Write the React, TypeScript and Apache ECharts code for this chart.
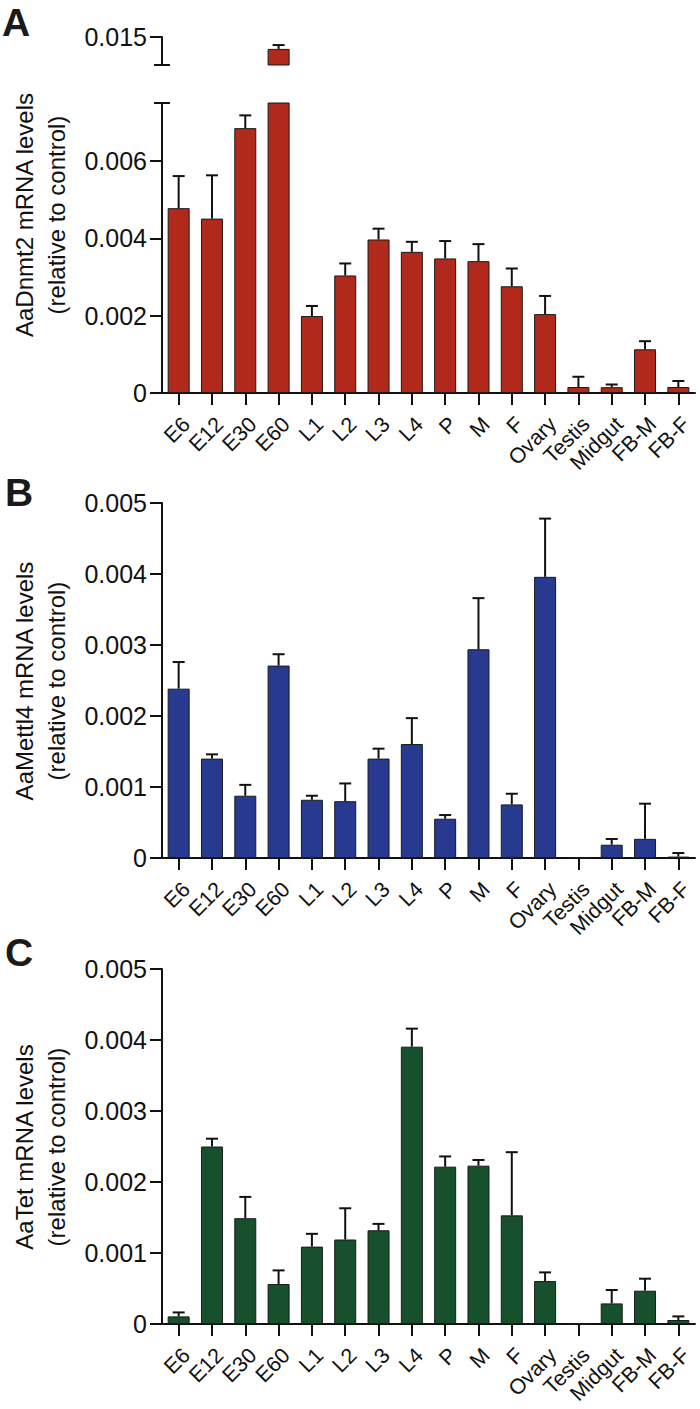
import React, { useEffect, useRef } from 'react';
import * as echarts from 'echarts';

// ---------- data ----------
const categories = ['E6', 'E12', 'E30', 'E60', 'L1', 'L2', 'L3', 'L4', 'P', 'M', 'F', 'Ovary', 'Testis', 'Midgut', 'FB-M', 'FB-F'];

const dnmt2Mean = [0.00478, 0.00451, 0.00685, 0.01466, 0.00199, 0.00304, 0.00397, 0.00365, 0.00348, 0.00341, 0.00276, 0.00204, 0.000155, 0.00015, 0.00113, 0.000155];
const dnmt2Err = [0.00083, 0.00112, 0.00033, 0.00011, 0.00026, 0.00031, 0.00028, 0.00026, 0.00045, 0.00044, 0.00046, 0.00047, 0.000265, 0.00007, 0.00021, 0.000155];

const mettl4Mean = [0.002385, 0.0014, 0.000877, 0.00271, 0.00082, 0.0008, 0.0014, 0.001605, 0.000553, 0.00294, 0.000755, 0.00396, 0, 0.000187, 0.00027, 0.00002];
const mettl4Err = [0.000375, 0.00006, 0.000153, 0.00016, 0.000057, 0.00025, 0.00014, 0.000365, 0.000052, 0.00072, 0.00015, 0.00082, 0, 0.000081, 0.000495, 0.00005];

const tetMean = [0.000107, 0.0025, 0.00149, 0.000563, 0.00109, 0.00119, 0.00132, 0.003906, 0.002216, 0.00223, 0.00153, 0.000605, 0, 0.00029, 0.000469, 0.000056];
const tetErr = [0.000056, 0.00011, 0.0003, 0.000192, 0.00018, 0.00044, 0.00009, 0.000254, 0.000144, 0.00008, 0.00089, 0.000122, 0, 0.000189, 0.000169, 0.000051];

const dnmt2LowerTicks = [0, 0.002, 0.004, 0.006];
const dnmt2UpperTicks = [0.015];

// ---------- style ----------
const FONT = '"Liberation Sans", Arial, Helvetica, sans-serif';
const INK = '#111111';
const RED = '#B0291B';
const BLUE = '#283A8F';
const GREEN = '#17502C';

const GRID_LEFT = 162;
const GRID_W = 533;

function xAxis(gridIndex: number, show: boolean) {
  return {
    type: 'category',
    gridIndex,
    show,
    data: categories,
    boundaryGap: true,
    axisLine: { show: true, lineStyle: { color: INK, width: 2 } },
    axisTick: { show: true, alignWithLabel: true, length: 12, lineStyle: { color: INK, width: 2 } },
    axisLabel: {
      show: true,
      rotate: 45,
      interval: 0,
      fontSize: 21.5,
      color: INK,
      fontFamily: FONT,
      margin: 20,
      align: 'right',
      verticalAlign: 'top',
    },
    splitLine: { show: false },
  };
}

function yAxis(gridIndex: number, min: number, max: number, interval: number, custom?: number[]) {
  const ax: any = {
    type: 'value',
    gridIndex,
    min,
    max,
    interval,
    splitLine: { show: false },
    axisLine: { show: true, lineStyle: { color: INK, width: 2 } },
    axisTick: { show: true, length: 12, lineStyle: { color: INK, width: 2 } },
    axisLabel: { fontSize: 25, color: INK, fontFamily: FONT, margin: 15 },
  };
  if (custom) {
    ax.axisTick.customValues = custom;
    ax.axisLabel.customValues = custom;
  }
  return ax;
}

function barSeries(idx: number, data: number[], color: string) {
  return {
    type: 'bar',
    xAxisIndex: idx,
    yAxisIndex: idx,
    data,
    barWidth: 22,
    clip: true,
    itemStyle: { color, borderColor: '#1a1a1a', borderWidth: 1 },
    z: 2,
  };
}

function errSeries(idx: number, mean: number[], err: number[]) {
  return {
    type: 'custom',
    xAxisIndex: idx,
    yAxisIndex: idx,
    clip: true,
    z: 3,
    data: mean.map((m, i) => [i, m, err[i]]),
    renderItem: (params: any, api: any) => {
      const x = api.value(0);
      const m = api.value(1);
      const e = api.value(2);
      if (!e) return null;
      const p0 = api.coord([x, m]);
      const p1 = api.coord([x, m + e]);
      const half = 6;
      const style = { stroke: INK, lineWidth: 2 };
      return {
        type: 'group',
        children: [
          { type: 'line', shape: { x1: p0[0], y1: p0[1], x2: p1[0], y2: p1[1] }, style },
          { type: 'line', shape: { x1: p1[0] - half, y1: p1[1], x2: p1[0] + half, y2: p1[1] }, style },
        ],
      };
    },
  };
}

function titleText(x: number, y: number, text: string) {
  return {
    type: 'text',
    x,
    y,
    rotation: Math.PI / 2,
    style: {
      text,
      font: `24px ${FONT}`,
      fill: INK,
      align: 'center',
      verticalAlign: 'middle',
      lineHeight: 32,
    },
  };
}

function letter(x: number, y: number, text: string) {
  return {
    type: 'text',
    x,
    y,
    style: { text, font: `bold 39px ${FONT}`, fill: '#1a1a1a', align: 'left', verticalAlign: 'top' },
  };
}

export default function App() {
  const ref = useRef<HTMLDivElement>(null);

  useEffect(() => {
    if (!ref.current) return;
    const chart = echarts.init(ref.current, null, { renderer: 'svg' });

    const gridBase = { left: GRID_LEFT, width: GRID_W, containLabel: false, outerBoundsMode: 'none' };
    const grids = [
      { ...gridBase, top: 37, height: 28 },
      { ...gridBase, top: 103, height: 290 },
      { ...gridBase, top: 503, height: 355 },
      { ...gridBase, top: 969, height: 355 },
    ];

    const breakStyle = { stroke: INK, lineWidth: 2 };

    const option: any = {
      animation: false,
      backgroundColor: '#ffffff',
      textStyle: { fontFamily: FONT },
      grid: grids,
      xAxis: [xAxis(0, false), xAxis(1, true), xAxis(2, true), xAxis(3, true)],
      yAxis: [
        yAxis(0, 0.0142, 0.015, 0.0008, dnmt2UpperTicks),
        yAxis(1, 0, 0.0075, 0.002, dnmt2LowerTicks),
        yAxis(2, 0, 0.005, 0.001),
        yAxis(3, 0, 0.005, 0.001),
      ],
      series: [
        barSeries(0, dnmt2Mean, RED),
        errSeries(0, dnmt2Mean, dnmt2Err),
        barSeries(1, dnmt2Mean, RED),
        errSeries(1, dnmt2Mean, dnmt2Err),
        barSeries(2, mettl4Mean, BLUE),
        errSeries(2, mettl4Mean, mettl4Err),
        barSeries(3, tetMean, GREEN),
        errSeries(3, tetMean, tetErr),
      ],
      graphic: [
        letter(2, 3, 'A'),
        letter(5, 473, 'B'),
        letter(5, 933, 'C'),
        titleText(40, 215, 'AaDnmt2 mRNA levels\n(relative to control)'),
        titleText(40, 681, 'AaMettl4 mRNA levels\n(relative to control)'),
        titleText(40, 1147, 'AaTet mRNA levels\n(relative to control)'),
        { type: 'line', shape: { x1: 154, y1: 65, x2: 170, y2: 65 }, style: breakStyle },
        { type: 'line', shape: { x1: 154, y1: 103, x2: 170, y2: 103 }, style: breakStyle },
      ],
    };

    chart.setOption(option);
    return () => chart.dispose();
  }, []);

  return <div ref={ref} style={{ position: 'absolute', left: 0, top: 0, width: 700, height: 1409 }} />;
}
